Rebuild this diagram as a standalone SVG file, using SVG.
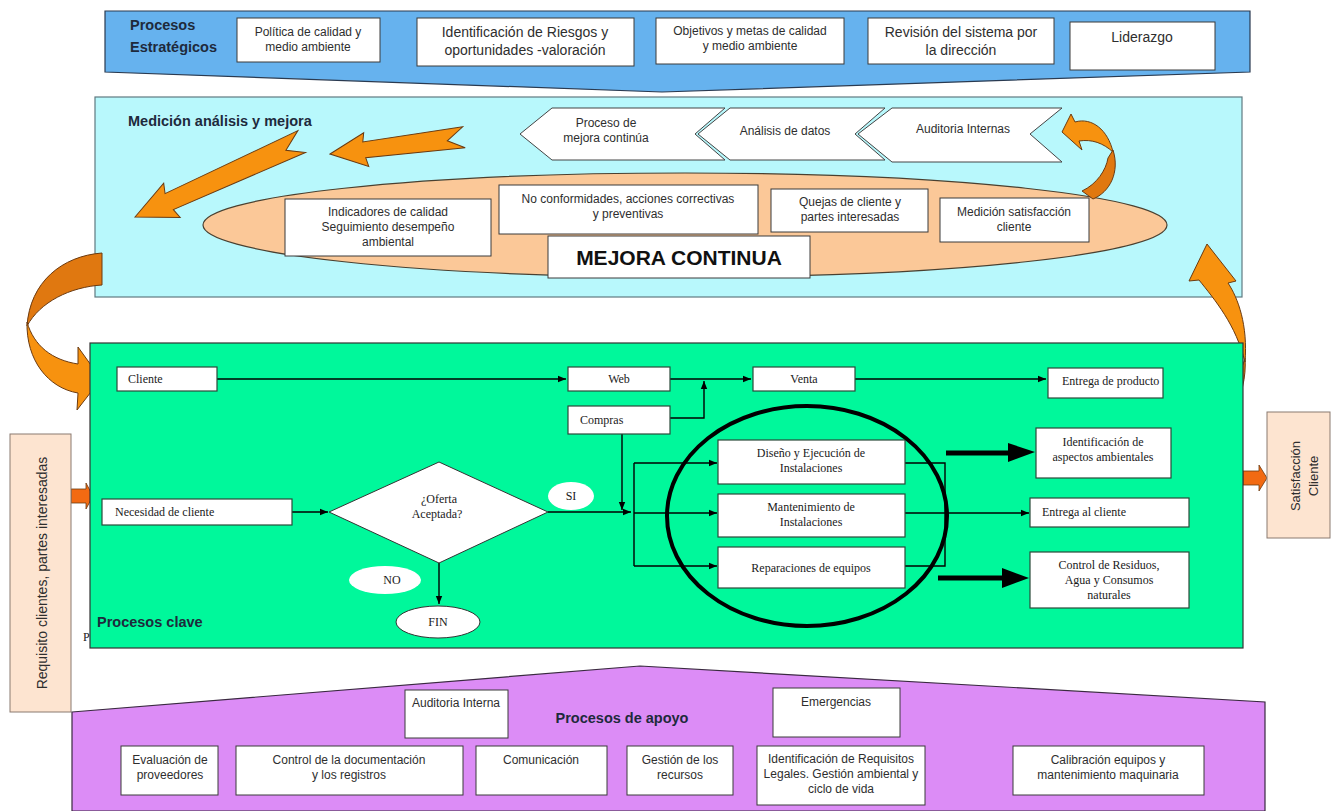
<svg xmlns="http://www.w3.org/2000/svg" width="1335" height="811" viewBox="0 0 1335 811">
<defs>
<style>
.sans{font-family:"Liberation Sans",Arial,sans-serif;fill:#2e2e2e}
.serif{font-family:"Liberation Serif","Times New Roman",serif;fill:#1a1a1a;font-size:12px}
.t12{font-size:12px}
.t14{font-size:14px}
.title{font-family:"Liberation Sans",Arial,sans-serif;font-weight:bold;font-size:14.5px;fill:#1e2a3c}
.box{fill:#fff;stroke:#3a3a3a;stroke-width:1}
.gbox{fill:#fff;stroke:#2a4a3a;stroke-width:1.2}
.chev{fill:#fff;stroke:#444;stroke-width:1}
.orange{fill:#f7920f;stroke:#6b3a10;stroke-width:1}
.dorange{fill:#e07810;stroke:#6b3a10;stroke-width:1}
.red{fill:#f26a12;stroke:#6b3a10;stroke-width:0.8}
.conn{fill:none;stroke:#000;stroke-width:1.4}
.oval{fill:#fff;stroke:#333;stroke-width:1}
</style>
<marker id="ah" viewBox="0 0 10 10" refX="10" refY="5" markerWidth="8" markerHeight="8" markerUnits="userSpaceOnUse" orient="auto">
<path d="M0,1 L10,5 L0,9 Z" fill="#000"/>
</marker>
</defs>

<g id="estrategicos">
<polygon points="105,11 1250,11 1250,72 662,92 105,72" fill="#66b2ee" stroke="#2a3a50" stroke-width="1.2"/>
<text class="title" x="130" y="30">Procesos</text>
<text class="title" x="130" y="52">Estratégicos</text>
<rect class="box" x="237" y="18" width="143" height="44"/>
<text class="sans t12" text-anchor="middle" x="308" y="36">Política de calidad y</text>
<text class="sans t12" text-anchor="middle" x="308" y="51">medio ambiente</text>
<rect class="box" x="417" y="18" width="217" height="48"/>
<text class="sans t14" text-anchor="middle" x="525" y="37">Identificación de Riesgos y</text>
<text class="sans t14" text-anchor="middle" x="525" y="55">oportunidades -valoración</text>
<rect class="box" x="656" y="18" width="188" height="46"/>
<text class="sans t12" text-anchor="middle" x="750" y="35">Objetivos y metas de calidad</text>
<text class="sans t12" text-anchor="middle" x="750" y="50">y medio ambiente</text>
<rect class="box" x="868" y="18" width="186" height="46"/>
<text class="sans t14" text-anchor="middle" x="961" y="37">Revisión del sistema por</text>
<text class="sans t14" text-anchor="middle" x="961" y="55">la dirección</text>
<rect class="box" x="1070" y="22" width="145" height="48"/>
<text class="sans t14" text-anchor="middle" x="1142" y="42">Liderazgo</text>
</g>

<g id="medicion">
<rect x="95" y="97" width="1147" height="200" fill="#b8f8fc" stroke="#5f7a80" stroke-width="1.2"/>
<text class="title" x="128" y="126">Medición análisis y mejora</text>
<polygon class="chev" points="520,134 552,108 725,108 695,134 725,160 552,160"/>
<text class="sans t12" text-anchor="middle" x="606" y="127">Proceso de</text>
<text class="sans t12" text-anchor="middle" x="606" y="142">mejora continúa</text>
<polygon class="chev" points="698,134 730,108 885,108 855,134 885,160 730,160"/>
<text class="sans t12" text-anchor="middle" x="785" y="135">Análisis de datos</text>
<polygon class="chev" points="858,134 892,108 1062,108 1030,134 1062,162 892,162"/>
<text class="sans t12" text-anchor="middle" x="963" y="133">Auditoria Internas</text>
<ellipse cx="685" cy="225" rx="482" ry="52" fill="#fbc898" stroke="#4a4030" stroke-width="1.2"/>
<rect class="box" x="285" y="199" width="206" height="57"/>
<text class="sans t12" text-anchor="middle" x="388" y="216">Indicadores de calidad</text>
<text class="sans t12" text-anchor="middle" x="388" y="231">Seguimiento desempeño</text>
<text class="sans t12" text-anchor="middle" x="388" y="246">ambiental</text>
<rect class="box" x="499" y="185" width="259" height="49"/>
<text class="sans t12" text-anchor="middle" x="628" y="203">No conformidades, acciones correctivas</text>
<text class="sans t12" text-anchor="middle" x="628" y="218">y preventivas</text>
<rect class="box" x="548" y="236" width="262" height="42"/>
<text x="679" y="265" text-anchor="middle" font-family="Liberation Sans, Arial, sans-serif" font-weight="bold" font-size="21" fill="#111">MEJORA CONTINUA</text>
<rect class="box" x="771" y="189" width="157" height="43"/>
<text class="sans t12" text-anchor="middle" x="850" y="206">Quejas de cliente y</text>
<text class="sans t12" text-anchor="middle" x="850" y="221">partes interesadas</text>
<rect class="box" x="940" y="198" width="149" height="44"/>
<text class="sans t12" text-anchor="middle" x="1014" y="216">Medición satisfacción</text>
<text class="sans t12" text-anchor="middle" x="1014" y="231">cliente</text>
</g>

<g id="orange-arrows">
<polygon class="orange" transform="translate(330,154) rotate(-6.9)" points="0,0 36,-17 34,-8 135,-11 118,1 135,10 35,8 37,17"/>
<polygon class="orange" transform="translate(135,217) rotate(-24.2)" points="0,0 40,-19 37,-9 184,-12 165,1 182,11 38,9 41,19"/>
<path class="dorange" d="M102,253 C62,256 30,282 27,326 C40,302 70,287 102,285 Z"/>
<path class="orange" d="M27,322 C26,360 48,388 78,393 L77,410 L101,379 L78,347 L78,364 C52,360 34,346 27,322 Z"/>
<path class="dorange" d="M1190,408 C1215,405 1238,385 1245,358 C1248,395 1225,440 1190,452 Z"/>
<path class="orange" d="M1245,362 C1248,325 1238,298 1228,283 L1236,281 L1207,244 L1189,281 L1199,280 C1215,300 1236,325 1245,362 Z"/>
<path class="orange" d="M1062,132 L1071,114 L1075,122 C1092,117 1108,130 1113,152 C1103,143 1092,139 1079,141 L1082,150 Z"/>
<path class="dorange" d="M1113,150 C1120,172 1110,192 1093,199 L1082,191 C1097,184 1106,170 1108,158 Z"/>
<polygon class="red" points="71,489 86,489 86,483 93,496 86,509 86,503 71,503"/>
<polygon class="red" points="1243,471 1259,471 1259,465 1267,478 1259,491 1259,485 1243,485"/>
</g>

<g id="clave">
<rect x="90" y="343" width="1153" height="305" fill="#00f89b" stroke="#333" stroke-width="1.2"/>
<text class="title" x="97" y="627">Procesos clave</text>
<text class="serif" x="83" y="641">P</text>
</g>

<g id="connectors">
<path class="conn" d="M217,379 H566" marker-end="url(#ah)"/>
<path class="conn" d="M670,379 H751" marker-end="url(#ah)"/>
<path class="conn" d="M670,418 H704 V381" marker-end="url(#ah)"/>
<path class="conn" d="M855,379 H1046" marker-end="url(#ah)"/>
<path class="conn" d="M292,512 H328" marker-end="url(#ah)"/>
<path class="conn" d="M548,512 H631" marker-end="url(#ah)"/>
<path class="conn" d="M622,434 V510" marker-end="url(#ah)"/>
<path class="conn" d="M634,463 V566"/>
<path class="conn" d="M634,463 H717" marker-end="url(#ah)"/>
<path class="conn" d="M634,513 H717" marker-end="url(#ah)"/>
<path class="conn" d="M634,566 H717" marker-end="url(#ah)"/>
<path class="conn" d="M439,563 V604" marker-end="url(#ah)"/>
<path class="conn" d="M905,463 H945 V566 H905" stroke-width="1"/>
<path class="conn" d="M905,513 H1029" marker-end="url(#ah)"/>
<path d="M946,453 H1012" stroke="#000" stroke-width="5" fill="none"/>
<polygon points="1008,443 1035,452 1008,462" fill="#000"/>
<path d="M938,578 H1006" stroke="#000" stroke-width="5" fill="none"/>
<polygon points="1002,568 1029,578 1002,588" fill="#000"/>
</g>

<g id="cliente"><rect class="gbox" x="117" y="367" width="100" height="24"/><text class="serif" x="128" y="383">Cliente</text></g>
<g id="web"><rect class="gbox" x="568" y="367" width="102" height="24"/><text class="serif" text-anchor="middle" x="619" y="383">Web</text></g>
<g id="compras"><rect class="gbox" x="568" y="406" width="102" height="28"/><text class="serif" x="580" y="424">Compras</text></g>
<g id="venta"><rect class="gbox" x="753" y="367" width="102" height="24"/><text class="serif" text-anchor="middle" x="804" y="383">Venta</text></g>
<g id="entrega-producto"><rect class="gbox" x="1048" y="368" width="115" height="30"/><text class="serif" x="1062" y="385">Entrega de producto</text></g>
<g id="necesidad"><rect class="gbox" x="102" y="499" width="190" height="26"/><text class="serif" x="115" y="516">Necesidad de cliente</text></g>
<g id="oferta"><polygon points="329,512 439,462 548,512 439,563" fill="#fff" stroke="#333" stroke-width="1"/><text class="serif" text-anchor="middle" x="439" y="503">¿Oferta</text><text class="serif" text-anchor="middle" x="437" y="518">Aceptada?</text></g>
<g id="si"><ellipse cx="571" cy="496" rx="23" ry="14" fill="#fff"/><text class="serif" text-anchor="middle" x="571" y="500">SI</text></g>
<g id="no"><ellipse cx="385" cy="580" rx="36" ry="14" fill="#fff"/><text class="serif" text-anchor="middle" x="392" y="584">NO</text></g>
<g id="fin"><ellipse class="oval" cx="438" cy="622" rx="42" ry="16"/><text class="serif" text-anchor="middle" x="438" y="626">FIN</text></g>
<g id="diseno"><rect class="gbox" x="718" y="440" width="187" height="44"/><text class="serif" text-anchor="middle" x="811" y="457">Diseño y Ejecución de</text><text class="serif" text-anchor="middle" x="811" y="472">Instalaciones</text></g>
<g id="mantenimiento"><rect class="gbox" x="718" y="494" width="187" height="43"/><text class="serif" text-anchor="middle" x="811" y="511">Mantenimiento de</text><text class="serif" text-anchor="middle" x="811" y="526">Instalaciones</text></g>
<g id="reparaciones"><rect class="gbox" x="718" y="547" width="187" height="41"/><text class="serif" text-anchor="middle" x="811" y="572">Reparaciones de equipos</text></g>
<g id="grupo-servicios"><ellipse cx="807" cy="516" rx="140" ry="110" fill="none" stroke="#000" stroke-width="4"/></g>
<g id="identificacion-aspectos"><rect class="gbox" x="1036" y="428" width="135" height="50"/><text class="serif" text-anchor="middle" x="1103" y="446">Identificación de</text><text class="serif" text-anchor="middle" x="1103" y="461">aspectos ambientales</text></g>
<g id="entrega-cliente"><rect class="gbox" x="1030" y="498" width="159" height="29"/><text class="serif" x="1042" y="516">Entrega al cliente</text></g>
<g id="control-residuos"><rect class="gbox" x="1030" y="552" width="159" height="56"/><text class="serif" text-anchor="middle" x="1109" y="569">Control de Residuos,</text><text class="serif" text-anchor="middle" x="1109" y="584">Agua y Consumos</text><text class="serif" text-anchor="middle" x="1109" y="599">naturales</text></g>

<g id="requisito">
<rect x="10" y="434" width="61" height="278" fill="#fde4d0" stroke="#8a7a70" stroke-width="1"/>
<text class="sans t14" text-anchor="middle" transform="translate(47,573) rotate(-90)">Requisito clientes, partes interesadas</text>
</g>
<g id="satisfaccion">
<rect x="1267" y="412" width="63" height="126" fill="#fde4d0" stroke="#8a7a70" stroke-width="1"/>
<text class="sans" font-size="13" text-anchor="middle" transform="translate(1300,476) rotate(-90)">Satisfacción</text>
<text class="sans" font-size="13" text-anchor="middle" transform="translate(1318,476) rotate(-90)">Cliente</text>
</g>

<g id="apoyo">
<polygon points="72,712 640,666 1265,702 1265,811 72,811" fill="#dc8cf6" stroke="#3a2a40" stroke-width="1.2"/>
<text class="title" text-anchor="middle" x="622" y="723">Procesos de apoyo</text>
<rect class="box" x="405" y="690" width="103" height="48"/>
<text class="sans t12" text-anchor="middle" x="456" y="707">Auditoria Interna</text>
<rect class="box" x="773" y="688" width="127" height="49"/>
<text class="sans t12" text-anchor="middle" x="836" y="706">Emergencias</text>
<rect class="box" x="121" y="746" width="97" height="49"/>
<text class="sans t12" text-anchor="middle" x="170" y="764">Evaluación de</text>
<text class="sans t12" text-anchor="middle" x="170" y="779">proveedores</text>
<rect class="box" x="236" y="746" width="227" height="49"/>
<text class="sans t12" text-anchor="middle" x="349" y="764">Control de la documentación</text>
<text class="sans t12" text-anchor="middle" x="349" y="779">y los registros</text>
<rect class="box" x="476" y="746" width="131" height="49"/>
<text class="sans t12" text-anchor="middle" x="541" y="764">Comunicación</text>
<rect class="box" x="627" y="746" width="106" height="49"/>
<text class="sans t12" text-anchor="middle" x="680" y="764">Gestión de los</text>
<text class="sans t12" text-anchor="middle" x="680" y="779">recursos</text>
<rect class="box" x="757" y="746" width="168" height="59"/>
<text class="sans t12" text-anchor="middle" x="841" y="763">Identificación de Requisitos</text>
<text class="sans t12" text-anchor="middle" x="841" y="778">Legales. Gestión ambiental y</text>
<text class="sans t12" text-anchor="middle" x="841" y="793">ciclo de vida</text>
<rect class="box" x="1013" y="746" width="191" height="49"/>
<text class="sans t12" text-anchor="middle" x="1108" y="764">Calibración equipos y</text>
<text class="sans t12" text-anchor="middle" x="1108" y="779">mantenimiento maquinaria</text>
</g>
</svg>
